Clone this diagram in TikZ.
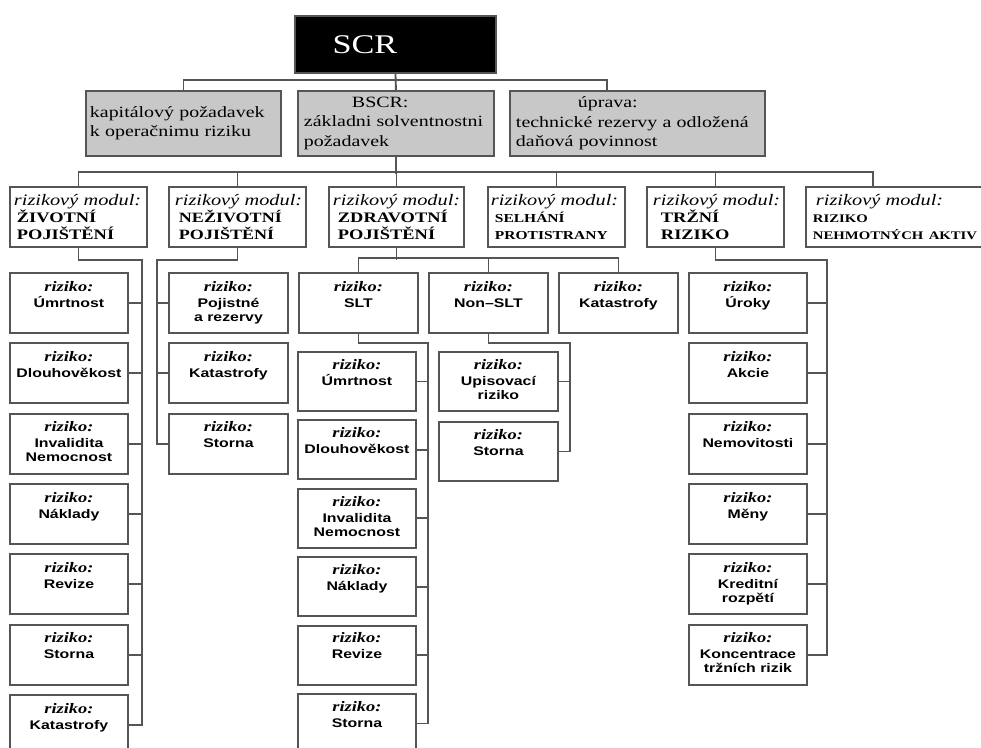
\documentclass[tikz,border=0pt]{standalone}
\usepackage{fontspec}
\setmainfont[FakeStretch=1.27]{Liberation Serif}
\newfontfamily\leafsans[FakeStretch=1.27]{Liberation Sans}
\usetikzlibrary{positioning}
\definecolor{LineGray}{HTML}{555555}
\definecolor{BoxFill}{HTML}{C8C8C8}
\newcommand{\rizlabel}{{\rmfamily\bfseries\itshape\fontsize{14.5}{14}\selectfont riziko:}}
\newcommand{\capsline}[2]{{\bfseries\fontsize{#1}{16}\selectfont #2}}

\tikzset{
  conn/.style={draw=LineGray,line width=1.9pt},
  greybox/.style={draw=LineGray,line width=1.9pt,fill=BoxFill,anchor=north west,
    minimum height=65pt,inner xsep=4pt,inner ysep=0pt,align=left,
    font=\fontsize{15.7}{19.5}\selectfont},
  modbox/.style={draw=LineGray,line width=1.9pt,fill=white,anchor=north west,
    minimum height=60pt,inner xsep=2pt,inner ysep=0pt,align=left,text width=#1,
    font=\fontsize{16}{17}\selectfont},
  modbox/.default=133pt,
  leafbox/.style={draw=LineGray,line width=1.9pt,fill=white,anchor=north west,
    minimum width=118pt,minimum height=60pt,inner sep=0pt},
  leaftext/.style={anchor=north,inner sep=0pt,align=center,
    font=\leafsans\bfseries\fontsize{12.5}{14}\selectfont}
}

\begin{document}
\begin{tikzpicture}[x=1pt,y=-1pt]
  \useasboundingbox (0,0) rectangle (981,747);
  \clip (0,0) rectangle (981,747);

  % top level
  \node[draw=LineGray,line width=1.9pt,fill=black,text=white,anchor=north west,minimum width=201pt,
    minimum height=57pt,inner sep=0pt,font=\fontsize{27}{27}\selectfont] (scr) at (294,15) {SCR\hspace*{61pt}};

  % second level
  \node[greybox,text width=187pt] (op) at (85,90) {kapitálový požadavek\\k operačnimu riziku};
  \node[greybox,text width=188pt] (bscr) at (297,90) {\hspace*{50pt}BSCR:\\\hspace*{2pt}základni solventnostni\\\hspace*{2pt}požadavek};
  \node[greybox,text width=247pt] (upr) at (509,90) {\hspace*{64pt}úprava:\\\hspace*{2pt}technické rezervy a odložená\\\hspace*{2pt}daňová povinnost};

  % risk modules
  \node[modbox] (m1) at (9,186) {\hspace*{2pt}\textit{rizikový modul:}\\\hspace*{5pt}\capsline{14.5}{ŽIVOTNÍ}\\\hspace*{5pt}\capsline{14.5}{POJIŠTĚNÍ}};
  \node[modbox] (m2) at (168,186) {\hspace*{4pt}\textit{rizikový modul:}\\\hspace*{8pt}\capsline{14.2}{NEŽIVOTNÍ}\\\hspace*{8pt}\capsline{14.2}{POJIŠTĚNÍ}};
  \node[modbox=131pt] (m3) at (328,186) {\hspace*{2pt}\textit{rizikový modul:}\\\hspace*{7pt}\capsline{14.5}{ZDRAVOTNÍ}\\\hspace*{7pt}\capsline{14.5}{POJIŠTĚNÍ}};
  \node[modbox] (m4) at (487,186) {\hspace*{1pt}\textit{rizikový modul:}\\\hspace*{5pt}\capsline{12.2}{SELHÁNÍ}\\\hspace*{5pt}\capsline{12.2}{PROTISTRANY}};
  \node[modbox] (m5) at (646,186) {\hspace*{4pt}\textit{rizikový modul:}\\\hspace*{12pt}\capsline{14.5}{TRŽNÍ}\\\hspace*{12pt}\capsline{14.5}{RIZIKO}};
  \node[modbox=186pt] (m6) at (805,186) {\hspace*{8pt}\textit{rizikový modul:}\\\hspace*{5pt}\capsline{11.6}{RIZIKO}\\\hspace*{5pt}\capsline{11.6}{NEHMOTNÝCH AKTIV}};

  % health sub-modules
  \foreach \n/\x/\t in {slt/298/SLT,nslt/428/Non–SLT,kat/558/Katastrofy}{
    \node[leafbox,minimum width=119pt] (\n) at (\x,272) {};
    \node[leaftext] (\n-t) at ([yshift=-9pt]\n.north) {\rizlabel\\[2pt]\t};
  }

  % single risks
  \foreach \t [count=\i] in {Úmrtnost,Dlouhověkost,{Invalidita\\Nemocnost},Náklady,Revize,Storna,Katastrofy}{
    \node[leafbox] (a\i) at (9,{272+70.33*(\i-1)}) {};
    \node[leaftext] (a\i-t) at ([yshift=-9pt]a\i.north) {\rizlabel\\[2pt]\t};
  }
  \foreach \t [count=\i] in {{Pojistné\\a rezervy},Katastrofy,Storna}{
    \node[leafbox,minimum width=119pt] (b\i) at (168,{272+70.33*(\i-1)}) {};
    \node[leaftext] (b\i-t) at ([yshift=-9pt]b\i.north) {\rizlabel\\[2pt]\t};
  }
  \foreach \t [count=\i] in {Úmrtnost,Dlouhověkost,{Invalidita\\Nemocnost},Náklady,Revize,Storna}{
    \node[leafbox,minimum height=59pt] (c\i) at (297,{351+68.4*(\i-1)}) {};
    \node[leaftext] (c\i-t) at ([yshift=-8pt]c\i.north) {\rizlabel\\[2pt]\t};
  }
  \foreach \t [count=\i] in {{Upisovací\\riziko},Storna}{
    \node[leafbox,minimum width=119pt,minimum height=59pt] (d\i) at (438,{351+70*(\i-1)}) {};
    \node[leaftext] (d\i-t) at ([yshift=-8pt]d\i.north) {\rizlabel\\[2pt]\t};
  }
  \foreach \t [count=\i] in {Úroky,Akcie,Nemovitosti,Měny,{Kreditní\\rozpětí},{Koncentrace\\tržních rizik}}{
    \node[leafbox] (e\i) at (688,{272+70.33*(\i-1)}) {};
    \node[leaftext] (e\i-t) at ([yshift=-9pt]e\i.north) {\rizlabel\\[2pt]\t};
  }

  % connectors
  \draw[conn] (op.north) |- ([yshift=-6pt]scr.south) -| ([xshift=-30.5pt]upr.north);
  \draw[conn] (scr.south) -- (bscr.north);
  \draw[conn] (bscr.south) -- ++(0,17);
  \draw[conn] (m1.north) |- ([shift={(68pt,14pt)}]m6.north west) -- ([xshift=68pt]m6.north west);
  \foreach \m in {m2,m3,m4,m5}
    \draw[conn] (\m.north) -- ++(0,-14);

  \draw[conn] (m1.south) -- ++(0,12) -| ([xshift=13pt]a7.east) -- (a7.east);
  \foreach \i in {1,...,6}
    \draw[conn] (a\i.east) -- ++(13,0);

  \draw[conn] (m2.south) -- ++(0,12) -| ([xshift=-11pt]b3.west) -- (b3.west);
  \foreach \i in {1,2}
    \draw[conn] (b\i.west) -- ++(-11,0);

  \draw[conn] (m3.south) -- ++(0,12);
  \draw[conn] (slt.north) -- ++(0,-14) -| (kat.north);
  \draw[conn] (nslt.north) -- ++(0,-14);

  \draw[conn] (slt.south) -- ++(0,9) -| ([xshift=11pt]c6.east) -- (c6.east);
  \foreach \i in {1,...,5}
    \draw[conn] (c\i.east) -- ++(11,0);

  \draw[conn] (nslt.south) -- ++(0,9) -| ([xshift=11pt]d2.east) -- (d2.east);
  \draw[conn] (d1.east) -- ++(11,0);

  \draw[conn] (m5.south) -- ++(0,12) -| ([xshift=19pt]e6.east) -- (e6.east);
  \foreach \i in {1,...,5}
    \draw[conn] (e\i.east) -- ++(19,0);
\end{tikzpicture}
\end{document}
